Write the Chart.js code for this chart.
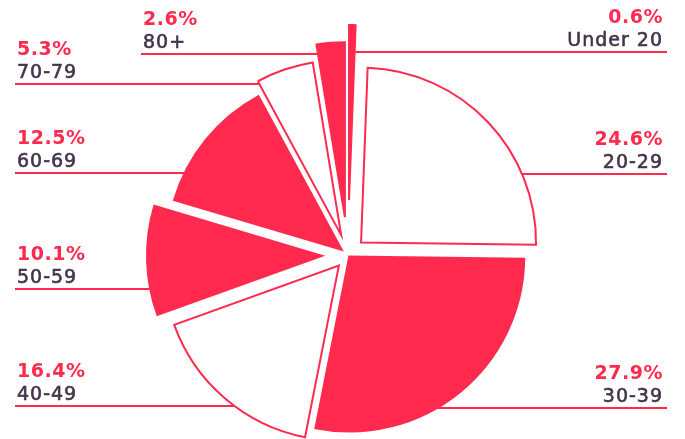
<!DOCTYPE html>
<html>
<head>
<meta charset="utf-8">
<script src="https://cdn.jsdelivr.net/npm/chart.js@4.4.1/dist/chart.umd.min.js"></script>
<style>
  html, body { margin: 0; padding: 0; background: #fff; }
  #wrap { width: 685px; height: 439px; position: relative; }
</style>
</head>
<body>
<div id="wrap"><canvas id="ageChart"></canvas></div>
<script>
// age split, clockwise from 12 o'clock
const categories = ['Under 20', '20-29', '30-39', '40-49', '50-59', '60-69', '70-79', '80+'];
const shares = [0.6, 24.6, 27.9, 16.4, 10.1, 12.5, 5.3, 2.6];

const RED = '#ff2a4e';
const INK = '#45344a';
const fills = [RED, '#ffffff', RED, '#ffffff', RED, RED, '#ffffff', RED];

// how far each slice is pulled out of the pie (px)
const explode = [55, 18, 2, 14, 26, 8, 21, 38];

// callout rows: leader line y, which side, where the text sits
const calloutY = [52, 174, 408, 406, 289, 173, 84, 54];
const calloutSide = ['right', 'right', 'right', 'left', 'left', 'left', 'left', 'left'];
const calloutX = [663, 663, 663, 17, 17, 17, 17, 143];

const explodePlugin = {
  id: 'explode',
  afterDatasetsUpdate(chart) {
    const arcs = chart.getDatasetMeta(0).data;
    arcs.forEach((a, i) => {
      const mid = (a.startAngle + a.endAngle) / 2;
      a.x += Math.cos(mid) * explode[i];
      a.y += Math.sin(mid) * explode[i];
    });
  }
};

function insideArc(a, px, py) {
  const dx = px - a.x, dy = py - a.y;
  if (dx * dx + dy * dy > a.outerRadius * a.outerRadius) return false;
  let ang = Math.atan2(dy, dx);
  while (ang < a.startAngle) ang += Math.PI * 2;
  return ang <= a.endAngle;
}

const calloutPlugin = {
  id: 'callouts',
  beforeDatasetsDraw(chart) {
    const ctx = chart.ctx;
    const arcs = chart.getDatasetMeta(0).data;
    ctx.save();
    ctx.strokeStyle = RED;
    ctx.lineWidth = 2;
    arcs.forEach((a, i) => {
      const y = calloutY[i];
      let minX = null, maxX = null;
      for (let x = 0; x <= chart.width; x += 0.5) {
        if (insideArc(a, x, y)) {
          if (minX === null) minX = x;
          maxX = x;
        }
      }
      if (minX === null) minX = maxX = a.x;
      ctx.beginPath();
      if (calloutSide[i] === 'right') {
        ctx.moveTo(maxX - 3, y);
        ctx.lineTo(calloutX[i] + 4, y);
      } else {
        ctx.moveTo(calloutX[i] - 2, y);
        ctx.lineTo(minX + 3, y);
      }
      ctx.stroke();
    });
    ctx.restore();
  },
  afterDraw(chart) {
    const ctx = chart.ctx;
    ctx.save();
    categories.forEach((name, i) => {
      const y = calloutY[i];
      ctx.textAlign = calloutSide[i] === 'right' ? 'right' : 'left';
      ctx.textBaseline = 'alphabetic';
      ctx.font = 'bold 19px "DejaVu Sans"';
      ctx.letterSpacing = '0.5px';
      ctx.fillStyle = RED;
      ctx.fillText(shares[i].toFixed(1) + '%', calloutX[i], y - 29);
      // category names are a bit heavier than regular in the original
      ctx.font = '19px "DejaVu Sans"';
      ctx.letterSpacing = '1px';
      ctx.fillStyle = INK;
      ctx.strokeStyle = INK;
      ctx.lineWidth = 0.6;
      ctx.fillText(name, calloutX[i], y - 6);
      ctx.strokeText(name, calloutX[i], y - 6);
    });
    ctx.restore();
  }
};

new Chart(document.getElementById('ageChart'), {
  type: 'pie',
  data: {
    labels: categories,
    datasets: [{
      data: shares,
      backgroundColor: fills,
      borderColor: RED,
      borderWidth: 2,
      borderJoinStyle: 'miter',
      clip: false
    }]
  },
  options: {
    responsive: true,
    maintainAspectRatio: false,
    animation: false,
    events: [],
    radius: 175,
    layout: {
      padding: { left: 11, top: 71, right: 0, bottom: 0 }
    },
    plugins: {
      legend: { display: false },
      tooltip: { enabled: false }
    }
  },
  plugins: [explodePlugin, calloutPlugin]
});
</script>
</body>
</html>
